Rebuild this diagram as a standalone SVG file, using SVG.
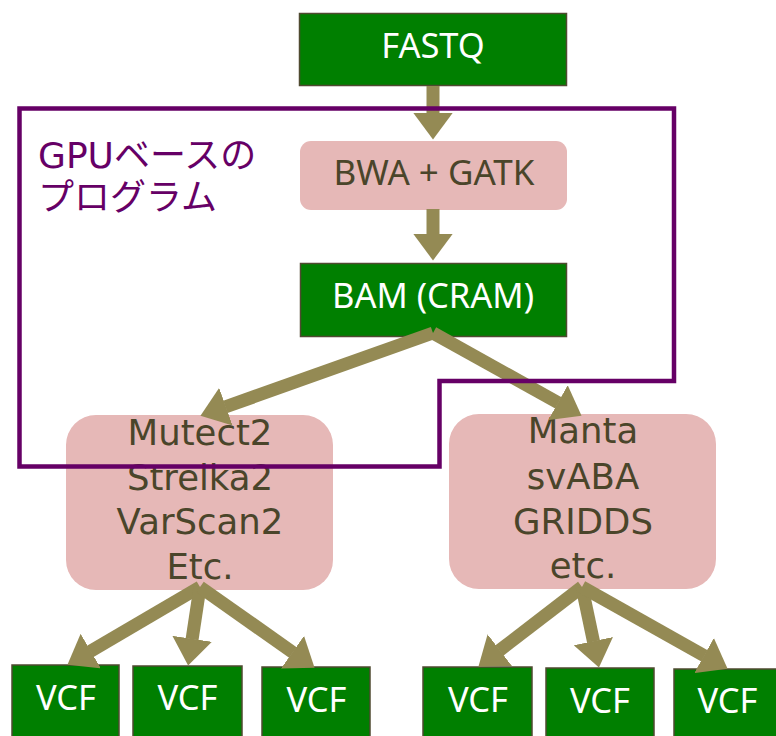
<svg xmlns="http://www.w3.org/2000/svg" width="776" height="736" viewBox="0 0 776 736">
<style>
.g{fill:#007F00;stroke:#4F4A30;stroke-width:1.5}
.p{fill:#E6B8B7}
.wt{font-family:"Noto Sans","DejaVu Sans",sans-serif;font-size:34.5px;fill:#FFFFFF;text-anchor:middle}
.dt{font-family:"Noto Sans","DejaVu Sans",sans-serif;font-size:35px;fill:#4A452A;text-anchor:middle}
.mt{font-family:"DejaVu Sans",sans-serif;font-size:35.5px;fill:#4A452A;text-anchor:middle}
.jp{font-family:"DejaVu Sans","Noto Sans CJK JP",sans-serif;font-size:36px;fill:#660066}
.a{stroke:#948A54;stroke-width:13;fill:none;marker-end:url(#ah)}
</style>
<defs>
<marker id="ah" markerUnits="userSpaceOnUse" viewBox="0 0 27 40" markerWidth="27" markerHeight="40" refX="0.5" refY="20" orient="auto">
<path d="M0,0 L27,20 L0,40 Z" fill="#948A54"/>
</marker>
</defs>
<rect width="776" height="736" fill="#FFFFFF"/>
<g id="fastq"><rect class="g" x="299.5" y="13.5" width="267" height="72"/><text class="wt" x="433" y="58">FASTQ</text></g>
<g id="bwa"><rect class="p" x="300" y="141" width="267" height="69" rx="11"/><text class="dt" x="434" y="185">BWA + GATK</text></g>
<g id="bam"><rect class="g" x="300.5" y="263.5" width="266" height="73"/><text class="wt" x="433" y="308">BAM (CRAM)</text></g>
<g id="somatic"><rect class="p" x="66" y="415" width="267" height="175" rx="30"/>
<text class="mt"><tspan x="200" y="445">Mutect2</tspan><tspan x="200" y="489.5">Strelka2</tspan><tspan x="200" y="534">VarScan2</tspan><tspan x="200" y="578.5">Etc.</tspan></text></g>
<g id="sv"><rect class="p" x="449" y="414" width="267" height="175" rx="30"/>
<text class="mt"><tspan x="583" y="443">Manta</tspan><tspan x="583" y="489">svABA</tspan><tspan x="583" y="534">GRIDDS</tspan><tspan x="583" y="578">etc.</tspan></text></g>
<g id="vcf1"><rect class="g" x="12" y="665" width="107" height="80"/><text class="wt" x="66" y="710">VCF</text></g>
<g id="vcf2"><rect class="g" x="133" y="666" width="109" height="80"/><text class="wt" x="187.5" y="710">VCF</text></g>
<g id="vcf3"><rect class="g" x="262" y="667" width="108" height="80"/><text class="wt" x="316.5" y="712">VCF</text></g>
<g id="vcf4"><rect class="g" x="423" y="667" width="109" height="80"/><text class="wt" x="478" y="712">VCF</text></g>
<g id="vcf5"><rect class="g" x="546" y="668" width="108" height="80"/><text class="wt" x="600" y="713">VCF</text></g>
<g id="vcf6"><rect class="g" x="674" y="669" width="108" height="80"/><text class="wt" x="727.5" y="713">VCF</text></g>
<g id="connectors">
<line class="a" x1="433" y1="86" x2="433" y2="113"/>
<line class="a" x1="433" y1="209" x2="433" y2="234"/>
<line class="a" x1="433" y1="333" x2="225.4" y2="406.9"/>
<line class="a" x1="433" y1="333" x2="558.4" y2="402.9"/>
<line class="a" x1="200" y1="587" x2="90.3" y2="651.3"/>
<line class="a" x1="200" y1="587" x2="192.1" y2="639.3"/>
<line class="a" x1="200" y1="587" x2="292.9" y2="652.5"/>
<line class="a" x1="582" y1="587" x2="499.4" y2="650.5"/>
<line class="a" x1="582" y1="587" x2="593.5" y2="641.6"/>
<line class="a" x1="582" y1="587" x2="704.5" y2="655.8"/>
</g>
<g id="gpu-group">
<path d="M19.5,108.5 H674 V381 H439.5 V466.5 H19.5 Z" fill="none" stroke="#660066" stroke-width="4.5"/>
<text class="jp"><tspan x="38" y="168">GPUベースの</tspan><tspan x="38" y="210">プログラム</tspan></text>
</g>
</svg>
